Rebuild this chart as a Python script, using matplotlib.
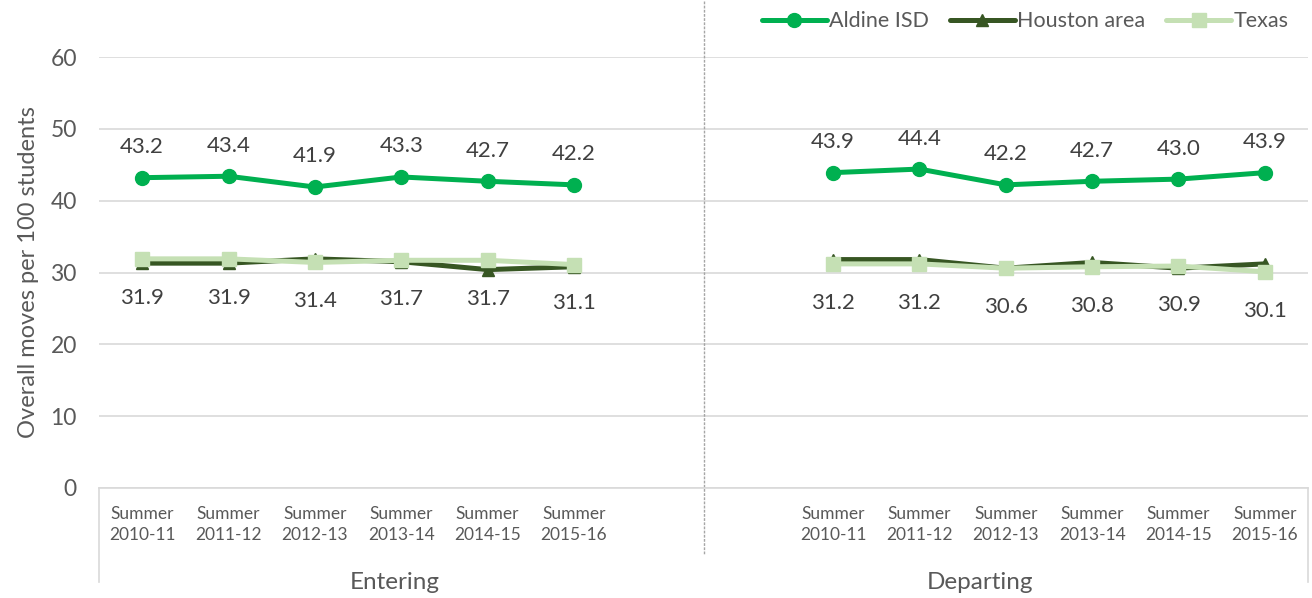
import matplotlib.pyplot as plt
import numpy as np

plt.rcParams['font.family'] = ['Lato', 'DejaVu Sans']

periods = ['Summer\n2010-11', 'Summer\n2011-12', 'Summer\n2012-13',
           'Summer\n2013-14', 'Summer\n2014-15', 'Summer\n2015-16']
groups = ['Entering', 'Departing']

aldine_in = [43.2, 43.4, 41.9, 43.3, 42.7, 42.2]
aldine_out = [43.9, 44.4, 42.2, 42.7, 43.0, 43.9]
houston_in = [31.3, 31.3, 31.9, 31.5, 30.4, 30.8]
houston_out = [31.8, 31.8, 30.6, 31.4, 30.6, 31.2]
texas_in = [31.9, 31.9, 31.4, 31.7, 31.7, 31.1]
texas_out = [31.2, 31.2, 30.6, 30.8, 30.9, 30.1]

grey = '#595959'
c_aldine = '#00B050'
c_houston = '#375623'
c_texas = '#C5E0B4'

# 6 entering slots, 2 empty slots, 6 departing slots
x_in = np.arange(6)
x_out = np.arange(8, 14)

fig = plt.figure(figsize=(13.12, 5.98), dpi=100)
ax = fig.add_axes([99/1312, 1 - 488/598, 1209/1312, 431/598])
ax.set_xlim(-0.5, 13.5)
ax.set_ylim(0, 60)

for xs, a, h, t in [(x_in, aldine_in, houston_in, texas_in),
                    (x_out, aldine_out, houston_out, texas_out)]:
    la, = ax.plot(xs, a, color=c_aldine, lw=3.6, marker='o', ms=10, zorder=3,
                  solid_capstyle='round')
    lh, = ax.plot(xs, h, color=c_houston, lw=3.6, marker='^', ms=9, zorder=4,
                  solid_capstyle='round')
    lt, = ax.plot(xs, t, color=c_texas, lw=3.6, marker='s', ms=10, zorder=5,
                  solid_capstyle='round')
    for xi, v in zip(xs, a):
        ax.annotate(f'{v:.1f}', (xi, v), xytext=(0, 22), textcoords='offset points',
                    ha='center', va='center', fontsize=16, color='#404040')
    for xi, v in zip(xs, t):
        ax.annotate(f'{v:.1f}', (xi, v), xytext=(0, -28), textcoords='offset points',
                    ha='center', va='center', fontsize=16, color='#404040')

ax.set_yticks(range(0, 61, 10))
ax.tick_params(axis='y', length=0, labelsize=16.5, labelcolor=grey, pad=16)
ax.yaxis.grid(True, color='#D9D9D9', lw=1.2)
ax.set_axisbelow(True)
for s in ['top', 'right', 'left']:
    ax.spines[s].set_visible(False)
ax.spines['bottom'].set_color('#D9D9D9')
ax.spines['bottom'].set_linewidth(1.2)

ax.set_xticks(list(x_in) + list(x_out))
ax.set_xticklabels(periods * 2, fontsize=12.5, color=grey, linespacing=1.4)
ax.tick_params(axis='x', length=0, pad=13)

ax.set_ylabel('Overall moves per 100 students', fontsize=17, color=grey, labelpad=8)

# group labels
ax.text(2.93, -0.22, groups[0], transform=ax.get_xaxis_transform(), ha='center',
        va='center', fontsize=17.5, color=grey)
ax.text(9.7, -0.22, groups[1], transform=ax.get_xaxis_transform(), ha='center',
        va='center', fontsize=17.5, color=grey)

# axis boundary lines and divider
tr = ax.get_xaxis_transform()
for xb in [-0.5, 13.5]:
    ax.plot([xb, xb], [0, -0.218], transform=tr, color='#D9D9D9', lw=1.2, clip_on=False)
ax.plot([6.5, 6.5], [1.13, -0.155], transform=tr, color='#A6A6A6', lw=1,
        ls=(0, (2, 1)), clip_on=False)

fig.legend([la, lh, lt], ['Aldine ISD', 'Houston area', 'Texas'], loc='upper right',
           bbox_to_anchor=(0.995, 1.01), ncol=3, frameon=False, fontsize=15.5,
           labelcolor=grey, handlelength=3.0, handletextpad=0.1, columnspacing=1.0,
           borderpad=0.3)

fig.savefig('out.png', dpi=100)
